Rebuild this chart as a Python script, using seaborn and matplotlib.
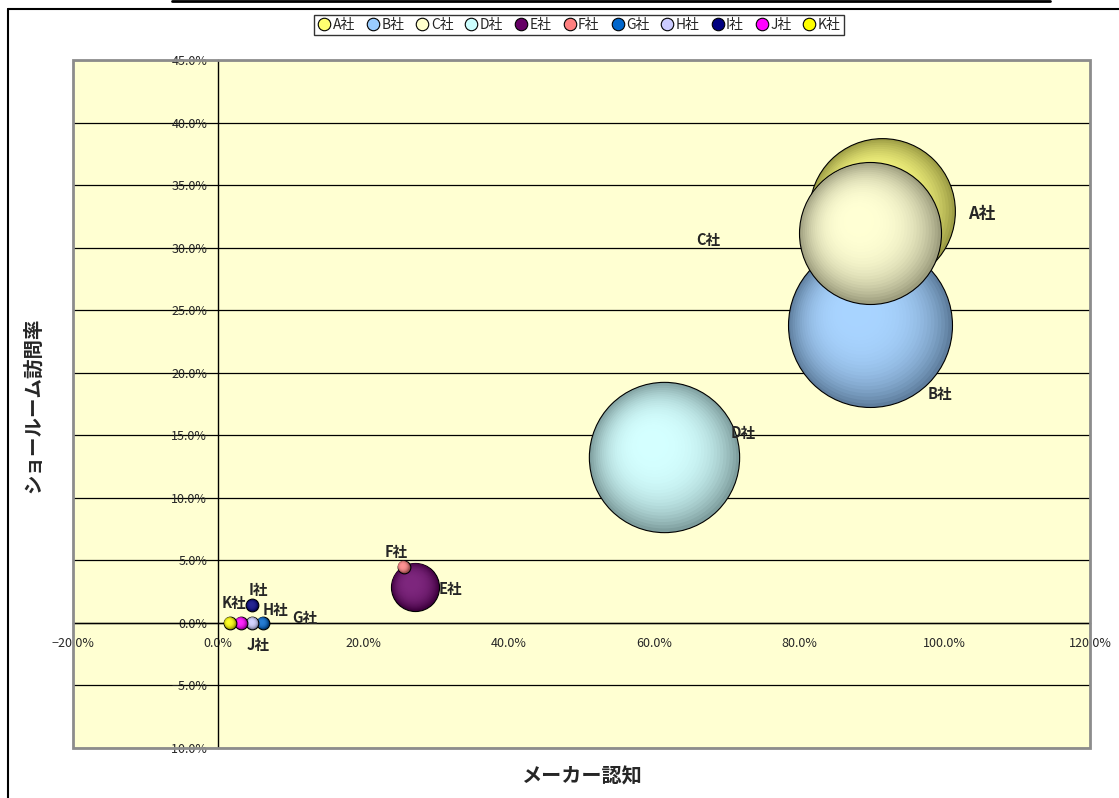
import numpy as np
import pandas as pd
import seaborn as sns
import matplotlib.pyplot as plt
from matplotlib.lines import Line2D
from matplotlib.patches import Rectangle
from matplotlib.ticker import FuncFormatter, MultipleLocator
from matplotlib.colors import to_rgb

# Data (percent)
companies = ['A社', 'B社', 'C社', 'D社', 'E社', 'F社', 'G社', 'H社', 'I社', 'J社', 'K社']
awareness = [91.4, 89.7, 89.7, 61.4, 27.1, 25.5, 6.1, 4.7, 4.7, 3.1, 1.6]
visit_rate = [32.9, 23.8, 31.2, 13.3, 2.9, 4.5, 0.0, 0.0, 1.4, 0.0, 0.0]
bubble_size = [79, 100, 75, 84, 8.6, 0.6, 0.6, 0.6, 0.6, 0.6, 0.6]
colors = ['#FFFF70', '#99CCFF', '#FFFFCC', '#CCFFFF', '#660066', '#FF8080',
          '#0066CC', '#CCCCFF', '#000080', '#FF00FF', '#FFFF00']

df = pd.DataFrame({'company': companies, 'awareness': awareness,
                   'visit': visit_rate, 'size': bubble_size, 'color': colors})

sns.set_style('white')
plt.rcParams['font.family'] = ['Noto Sans CJK JP', 'DejaVu Sans']

W, H = 1119, 798
fig = plt.figure(figsize=(W / 100, H / 100), dpi=100)
ax = fig.add_axes([73 / W, 1 - 748 / H, 1017 / W, 688 / H])
ax.set_xlim(-20, 120)
ax.set_ylim(-10, 45)
ax.set_facecolor('#FFFFD2')

# grid + axes crossing at zero
ax.yaxis.set_major_locator(MultipleLocator(5))
ax.xaxis.set_major_locator(MultipleLocator(20))
ax.yaxis.grid(True, color='black', lw=0.9)
ax.set_axisbelow(True)
for side in ['top', 'right']:
    ax.spines[side].set_visible(False)
ax.spines['left'].set_position(('data', 0))
ax.spines['bottom'].set_position(('data', 0))
ax.spines['left'].set_color('black')
ax.spines['bottom'].set_color('black')
ax.spines['left'].set_linewidth(1.0)
ax.spines['bottom'].set_linewidth(1.0)
ax.add_patch(Rectangle((0, 0), 1, 1, transform=ax.transAxes, fill=False,
                       ec='#8C8C8C', lw=2, zorder=5, clip_on=False))

pct = FuncFormatter(lambda v, _: f'{v:.1f}%'.replace('-', '\u2212'))
ax.xaxis.set_major_formatter(pct)
ax.yaxis.set_major_formatter(pct)
ax.tick_params(axis='x', direction='in', length=4, width=1, pad=10, labelsize=9)
ax.tick_params(axis='y', direction='in', length=4, width=1, pad=8, labelsize=9)

# bubbles with a simple radial shading, biggest first
px_per_x = 1017 / 140
px_per_y = 688 / 55
s_per_unit = 13940 / 100
n_layers = 26

order = df.sort_values('size', ascending=False, kind='stable').index
for i in order:
    row = df.loc[i]
    base = np.array(to_rgb(row['color']))
    rim = base * 0.62
    light = base + (1 - base) * 0.15
    s_full = row['size'] * s_per_unit
    r_px = np.sqrt(s_full) / 2 * 100 / 72
    layers = n_layers if row['size'] > 5 else 8
    for k in range(layers):
        t = k / layers
        f = 1 - t * 0.92
        w = 1 - (1 - t) ** 3
        col = rim * (1 - w) + light * w
        shift = (1 - f) * 0.2 * r_px
        sns.scatterplot(x=[row['awareness'] - shift / px_per_x],
                        y=[row['visit'] + shift / px_per_y],
                        s=s_full * f ** 2, color=col,
                        edgecolor='black' if k == 0 else 'none',
                        linewidth=0.8 if k == 0 else 0,
                        ax=ax, legend=False, zorder=3)

ax.set_xlabel('')
ax.set_ylabel('')

# data labels
label_xy = {'A社': (105.1, 32.7), 'B社': (99.3, 18.3), 'C社': (67.4, 30.6),
            'D社': (72.2, 15.2), 'E社': (32.0, 2.7), 'F社': (24.5, 5.7),
            'G社': (11.9, 0.4), 'H社': (7.9, 1.0), 'I社': (5.5, 2.6),
            'J社': (5.5, -1.8), 'K社': (2.2, 1.6)}
for name, (lx, ly) in label_xy.items():
    ax.text(lx, ly, name, ha='center', va='center',
            fontsize=12 if name == 'A社' else 10.5, zorder=6,
            fontweight='bold')

fig.text(33 / W, 1 - 405 / H, 'ショールーム訪問率', rotation=90, ha='center',
         va='center', fontsize=14, fontweight='bold')
fig.text(581 / W, 1 - 776 / H, 'メーカー認知', ha='center', va='center',
         fontsize=14.5, fontweight='bold')

# legend across the top
handles = [Line2D([], [], marker='o', ls='', markerfacecolor=c,
                  markeredgecolor='black', markersize=9, markeredgewidth=0.8)
           for c in colors]
leg = fig.legend(handles, companies, loc='center', ncol=len(companies),
                 bbox_to_anchor=(579 / W, 1 - 25 / H), fontsize=10,
                 frameon=True, fancybox=False, edgecolor='black',
                 handletextpad=0.1, columnspacing=0.8, handlelength=1.0,
                 borderpad=0.25, borderaxespad=0)
leg.get_frame().set_linewidth(1.0)

# chart area frame bits
fig.add_artist(Line2D([8 / W, 8 / W], [0, 1 - 9 / H], color='black', lw=1.5))
fig.add_artist(Line2D([8 / W, 1], [1 - 9 / H, 1 - 9 / H], color='black', lw=1.5))
fig.add_artist(Line2D([172 / W, 1050 / W], [1 - 1 / H, 1 - 1 / H], color='black', lw=2))

fig.savefig('out.png', dpi=100)
